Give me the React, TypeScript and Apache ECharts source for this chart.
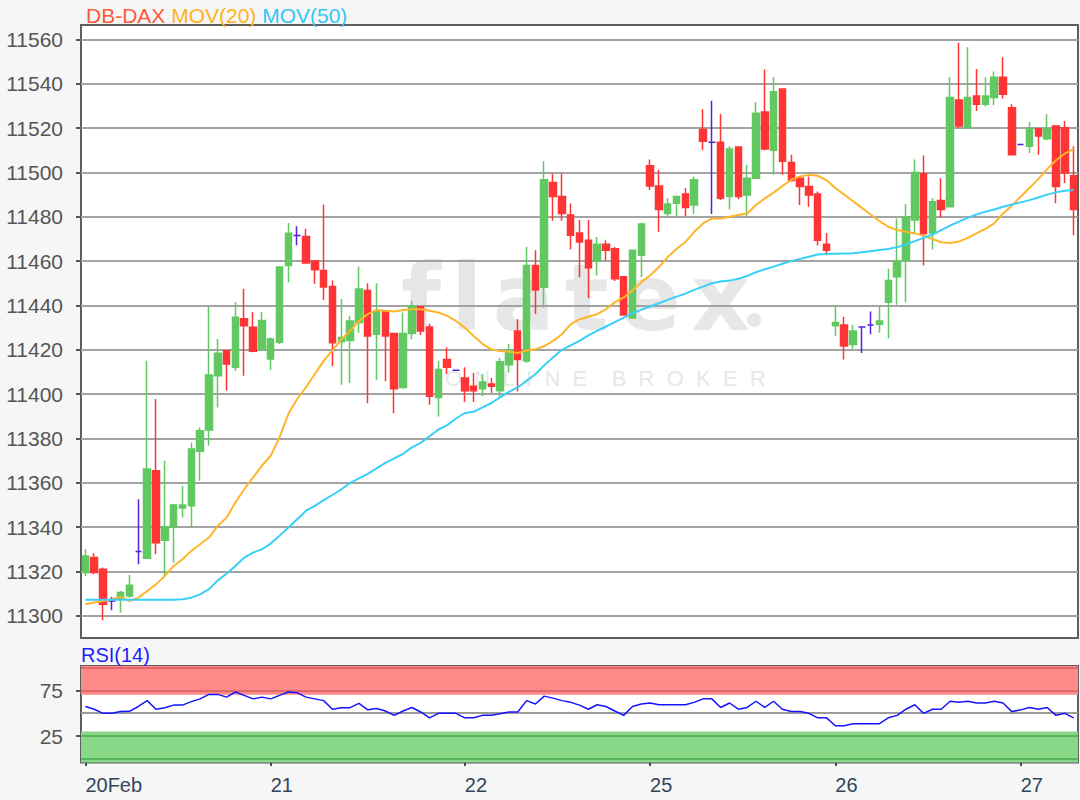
import React, { useEffect, useRef } from "react";
import * as echarts from "echarts";

const dayNames = ["20Feb", "21", "22", "25", "26", "27"];
const candlesPerDay = [21, 22, 21, 21, 21, 7];

const opens = [
  11319.5, 11326.3, 11321, 11306.7, 11307.5, 11309, 11329, 11326, 11365.4, 11334.1,
  11340.1, 11348.6, 11349.6, 11374.2, 11383.8, 11408.3, 11419.6, 11412.1, 11434, 11430.2,
  11420, 11415.9, 11423.4, 11458, 11471.6, 11471.1, 11460, 11455.8, 11448.5, 11423.6,
  11424.2, 11432.3, 11446.7, 11427, 11437.6, 11427.3, 11403, 11427.3, 11439.4, 11430.3,
  11398.5, 11415.6, 11410.8, 11407.3, 11403.5, 11402.4, 11404.6, 11401.5, 11413.3, 11428.5,
  11414.9, 11458, 11448.2, 11495.5, 11489.1, 11480.8, 11472.7, 11469.4, 11460, 11467.6,
  11465.6, 11453, 11434.3, 11462.6, 11503, 11493.9, 11481.5, 11486.1, 11490.3, 11485.3,
  11519.4, 11513.6, 11513.6, 11489.1, 11511.5, 11489.8, 11497.4, 11527.3, 11510, 11537.6,
  11504.5, 11497.4, 11493.6, 11490.3, 11467.6, 11430.8, 11431.2, 11422.4, 11430.3, 11431.2,
  11431.5, 11441.4, 11453, 11460.3, 11478.5, 11499.4, 11472.7, 11487.3, 11484.5, 11532.7,
  11520.1, 11534.5, 11530.8, 11533.8, 11542.9, 11529.2, 11512.6, 11511.8, 11519.7, 11515.2,
  11520.9, 11520.1, 11498.5,
];
const closes = [
  11327, 11319.5, 11305.2, 11306.7, 11310.5, 11313.8, 11329, 11366.2, 11333, 11340.1,
  11350, 11350, 11375.2, 11383.5, 11408.6, 11418.4, 11413.6, 11434.7, 11430.9, 11419.3,
  11433.2, 11424.9, 11457.3, 11472.6, 11471.6, 11459.1, 11456.1, 11448.3, 11423.2, 11425.5,
  11433, 11447.4, 11426.2, 11437.6, 11426.2, 11402.4, 11427.3, 11439.9, 11428.5, 11399,
  11411.1, 11412.1, 11410.8, 11401.5, 11401.5, 11405.5, 11403.5, 11414.6, 11419.7, 11415.6,
  11458, 11447, 11496.7, 11489.1, 11481.5, 11471.7, 11468.6, 11457, 11467.6, 11464.9,
  11452, 11435.7, 11464.9, 11476.7, 11493.9, 11483.3, 11485.8, 11489.1, 11484.2, 11496.7,
  11514.1, 11513.6, 11488.3, 11510.6, 11489.1, 11497.4, 11526.7, 11510.6, 11536.4, 11505,
  11496.4, 11493.6, 11489.8, 11469.4, 11464.9, 11432.3, 11421.7, 11428.5, 11430.3, 11431.2,
  11433, 11451.2, 11460, 11480, 11500, 11472.4, 11486.8, 11483.3, 11533.8, 11520.9,
  11533.8, 11530.8, 11534.5, 11542.9, 11535.3, 11508, 11512.6, 11519.7, 11516.4, 11519.7,
  11493.6, 11499.7, 11483.3,
];
const lows = [
  11318, 11318.7, 11298, 11302.5, 11301.4, 11308.2, 11323.3, 11326, 11327.8, 11318,
  11324, 11344.3, 11339.8, 11360.9, 11376.7, 11394, 11401.6, 11410.6, 11408.3, 11418.9,
  11419.6, 11410.9, 11422.6, 11450.5, 11467.1, 11458.8, 11449.8, 11442.5, 11412.6, 11404.2,
  11405, 11427.7, 11395.9, 11406.5, 11405.8, 11391.4, 11402.4, 11424.7, 11426.7, 11395.2,
  11389.9, 11409.1, 11410.8, 11396.4, 11396.4, 11399, 11400.5, 11398.2, 11409.6, 11401.2,
  11414.1, 11436.1, 11439.1, 11478.2, 11478.2, 11465.2, 11452.7, 11443.3, 11453.5, 11460.3,
  11451, 11435.3, 11434.3, 11452.7, 11492.1, 11473.2, 11479.7, 11479.7, 11480.3, 11481.2,
  11510, 11481.2, 11487.6, 11483.3, 11487.9, 11480, 11497.4, 11510, 11498.9, 11498.9,
  11495.9, 11485.3, 11484.5, 11467, 11462.6, 11426.2, 11415.6, 11420.2, 11418.6, 11427,
  11427.7, 11425.2, 11440.3, 11441.4, 11472.1, 11458, 11465.2, 11479.7, 11484.5, 11520.1,
  11520.1, 11527.7, 11529.7, 11530.3, 11533.3, 11507.6, 11512.6, 11508.8, 11508, 11514.5,
  11486.1, 11495.2, 11471.7,
];
const highs = [
  11330, 11328.2, 11321.8, 11308.5, 11311.2, 11318.4, 11352.6, 11415.1, 11397.8, 11370,
  11350.5, 11358.6, 11378.2, 11385, 11439.5, 11424.9, 11419.6, 11441.5, 11447.5, 11437,
  11437, 11425.7, 11457.6, 11477.2, 11475.7, 11474.6, 11460, 11485.5, 11451.2, 11442.9,
  11435.3, 11457.6, 11450, 11450, 11437.9, 11427.3, 11436.8, 11442.1, 11439.4, 11431.8,
  11414.9, 11421.2, 11410.8, 11412.1, 11409.6, 11409.1, 11407.3, 11416.4, 11422.7, 11433.8,
  11466.4, 11464.9, 11505, 11499.4, 11499.4, 11486, 11478.5, 11478.5, 11470.9, 11469.4,
  11466.4, 11453, 11464.9, 11477.3, 11505.8, 11501.2, 11488.3, 11489.1, 11492.9, 11498.2,
  11528.5, 11532.3, 11526.3, 11511.8, 11511.8, 11503.5, 11531.8, 11546.4, 11542.9, 11537.9,
  11508, 11498.2, 11498.2, 11491.4, 11472.7, 11439.4, 11434.9, 11431.2, 11430.3, 11437.3,
  11439.4, 11456.5, 11479.2, 11485.8, 11505.8, 11507.6, 11488.3, 11497.4, 11542.9, 11558.5,
  11556.5, 11546.7, 11542.9, 11545.5, 11552, 11530.8, 11512.6, 11522.7, 11519.7, 11526.2,
  11521.2, 11523.2, 11511.8,
];
const mov20 = [
  11305.2, 11306, 11306.7, 11307.5, 11308.5, 11306.7, 11308.2, 11311.2, 11314.2, 11318,
  11322.5, 11325.5, 11329.3, 11332.3, 11335.3, 11340.6, 11344.3, 11351.1, 11357.1, 11362.4,
  11367.7, 11372.2, 11380.5, 11391, 11397.8, 11403.1, 11409.1, 11415, 11419.7, 11424.7,
  11428.5, 11433, 11436.1, 11437.9, 11437.6, 11437.3, 11437.9, 11438.3, 11438.3, 11437.6,
  11436.8, 11435.3, 11433, 11430, 11426.2, 11422.7, 11420.2, 11419.4, 11419.1, 11418.6,
  11419.7, 11420.2, 11421.7, 11424, 11427, 11431.5, 11433.8, 11434.9, 11436.1, 11438.3,
  11441.4, 11443.6, 11446.7, 11450.5, 11453.5, 11457.3, 11461.8, 11465.6, 11468.6, 11473.2,
  11477, 11479.2, 11479.2, 11480, 11480.8, 11481.5, 11485.3, 11488.3, 11490.9, 11493.9,
  11496.7, 11498.2, 11498.9, 11498.5, 11496.5, 11493, 11490, 11487, 11484, 11481,
  11478, 11475.5, 11474, 11473.2, 11472.5, 11471.5, 11470, 11468.5, 11468.2, 11468.8,
  11470.5, 11472.5, 11474.5, 11477, 11481.5, 11485, 11489, 11493, 11497, 11501.5,
  11505.5, 11508.5, 11510.5,
];
const mov50 = [
  11307.2, 11307.2, 11307.2, 11307.2, 11307.2, 11307.2, 11307.2, 11307.2, 11307.2, 11307.2,
  11307.2, 11307.5, 11308.2, 11309.7, 11312, 11316, 11319, 11322.5, 11326.3, 11328.5,
  11330, 11332.6, 11336.1, 11339.8, 11343.6, 11347.4, 11349.6, 11352.2, 11354.5, 11357,
  11360, 11362, 11364, 11366.5, 11369, 11371, 11373, 11376, 11378, 11381,
  11384, 11386, 11389, 11391.5, 11392, 11394, 11396, 11398.5, 11401, 11403,
  11406, 11409, 11413, 11416.5, 11420, 11422, 11424, 11426.5, 11428.5, 11430.5,
  11432.5, 11434.5, 11436.5, 11438, 11439.5, 11441, 11442.5, 11444, 11445.3, 11447,
  11448.5, 11450, 11450.8, 11451.2, 11452, 11453.3, 11455, 11456.3, 11457.5, 11458.8,
  11460, 11461, 11462, 11463, 11463.2, 11463.3, 11463.4, 11463.5, 11464, 11464.5,
  11465, 11465.5, 11466.3, 11467.5, 11469, 11470.5, 11472, 11474, 11476, 11477.8,
  11479.5, 11481, 11482.3, 11483.3, 11484.5, 11485.5, 11486.5, 11487.5, 11488.7, 11490,
  11491, 11491.7, 11492.1,
];
const rsi = [
  57.3, 54.3, 49.8, 49.8, 51.7, 52, 57.3, 63.7, 54.3, 56,
  58.8, 58.8, 62.6, 65.6, 70.5, 70.5, 67.5, 73.1, 69.4, 65.6,
  67.5, 65.6, 69.4, 73.1, 72.4, 67.5, 65.6, 63.7, 54.3, 56,
  56, 60.7, 53.6, 55, 52.4, 47.6, 52.4, 56.2, 51.3, 44.9,
  49.8, 49.8, 49.8, 44.9, 44.9, 47.6, 47.6, 49.4, 51.3, 51.3,
  63.7, 60, 68.6, 66.4, 63.7, 61.8, 58.8, 54.3, 59.2, 57.3,
  52.4, 47.6, 57.3, 60, 61.1, 59.2, 59.2, 59.2, 59.2, 61.8,
  65.6, 65.6, 56.2, 61.1, 54.3, 56.2, 63, 56.2, 63, 54.3,
  51.7, 51.7, 49.8, 44.9, 44.9, 36.3, 36.3, 38.5, 38.5, 38.5,
  38.5, 44.9, 47.6, 54.3, 59.2, 49.8, 54.3, 54.3, 63, 61.8,
  63, 61.1, 61.1, 63, 61.1, 51.7, 53.6, 56.2, 54.3, 56.2,
  47.6, 49.8, 44.9,
];
const priceTicks = [11300, 11320, 11340, 11360, 11380, 11400, 11420, 11440, 11460, 11480, 11500, 11520, 11540, 11560];
const rsiTicks = [25, 75];
const rsiOverbought = [70, 101.5];
const rsiOversold = [-4, 30];
const rsiGuides = [100, 75, 50, 25, 0];

const FONT = "'Liberation Sans', Arial, sans-serif";

export default function App() {
  const ref = useRef<HTMLDivElement>(null);
  useEffect(() => {
    document.body.style.margin = "0";
    document.body.style.background = "#f6f6f6";
    const chart = echarts.init(ref.current!, undefined, { renderer: "svg" });

    const categories: string[] = [];
    const dayStart = new Set<number>();
    dayNames.forEach((d, i) => {
      dayStart.add(categories.length);
      for (let j = 0; j < candlesPerDay[i]; j++) categories.push(j === 0 ? d : `${d} ${j}`);
    });
    const candles = opens.map((o, i) => [o, closes[i], lows[i], highs[i]]);
    const showDay = (i: number) => dayStart.has(i);

    const guideColor = (v: number) => (v >= 70 ? "#e06868" : v <= 30 ? "#58b458" : "#9a9a9a");

    chart.setOption({
      animation: false,
      backgroundColor: "#f6f6f6",
      title: {
        text: "{a|DB-DAX} {b|MOV(20)} {c|MOV(50)}",
        left: 81,
        top: 0,
        textStyle: {
          fontSize: 21,
          fontFamily: FONT,
          fontWeight: "normal",
          rich: {
            a: { color: "#ff5a3a", fontSize: 21, fontFamily: FONT },
            b: { color: "#ffb21e", fontSize: 21, fontFamily: FONT },
            c: { color: "#32c8f5", fontSize: 21, fontFamily: FONT },
          },
        },
      },
      graphic: [
        { type: "rect", z: -10, shape: { x: 81, y: 25, width: 997, height: 613 }, style: { fill: "#ffffff" } },
        {
          type: "text", z: -9, x: 396, y: 344,
          style: {
            text: "{s|f}{s|l}{s|a}{s|t}{s|e}{s|x}",
            fill: "#e7e7e7", fontSize: 92, fontWeight: "bold", fontFamily: "'DejaVu Sans', sans-serif",
            verticalAlign: "bottom", align: "left",
            rich: { s: { fill: "#e7e7e7", fontSize: 92, fontWeight: "bold", fontFamily: "'DejaVu Sans', sans-serif", padding: [0, 5, 0, 5] } },
          },
        },
        { type: "circle", z: -9, shape: { cx: 754, cy: 320, r: 7 }, style: { fill: "#e7e7e7" } },
        {
          type: "text", z: -9, x: 445, y: 378,
          style: { text: "O  N  L  I  N  E    B  R  O  K  E  R", fill: "#e7e7e7", fontSize: 22, fontFamily: FONT, verticalAlign: "middle", align: "left" },
        },
        {
          type: "text", x: 81, y: 655,
          style: { text: "RSI(14)", fill: "#1e1eff", fontSize: 20, fontFamily: FONT, verticalAlign: "middle", align: "left" },
        },
      ],
      grid: [
        { left: 81, top: 25, width: 997, height: 613, show: true, backgroundColor: "transparent", borderColor: "#5e5e5e", borderWidth: 2 },
        { left: 81, top: 666, width: 997, height: 96.6, show: true, backgroundColor: "#ffffff", borderColor: "#5e5e5e", borderWidth: 2 },
      ],
      xAxis: [
        {
          type: "category", gridIndex: 0, data: categories, boundaryGap: true,
          axisLine: { show: false }, axisTick: { show: false }, axisLabel: { show: false }, splitLine: { show: false },
        },
        {
          type: "category", gridIndex: 1, data: categories, boundaryGap: true,
          axisLine: { show: false },
          axisTick: { show: true, alignWithLabel: true, interval: showDay, length: 7, lineStyle: { color: "#3d4c60", width: 2 } },
          axisLabel: { interval: showDay, align: "left", margin: 12, color: "#33455b", fontSize: 20, fontFamily: FONT },
          splitLine: { show: false },
        },
      ],
      yAxis: [
        {
          type: "value", gridIndex: 0, min: 11290, max: 11566.5, scale: true,
          axisLine: { show: false },
          axisTick: { show: true, customValues: priceTicks, length: 5, lineStyle: { color: "#555555", width: 2 } },
          axisLabel: { customValues: priceTicks, formatter: (v: number) => String(v), color: "#555555", fontSize: 21, fontFamily: FONT, margin: 18 },
          splitLine: { show: true, lineStyle: { color: "#a3a3a3", width: 2 } },
        },
        {
          type: "value", gridIndex: 1, min: -4, max: 101.5,
          axisLine: { show: false },
          axisTick: { show: true, customValues: rsiTicks, length: 5, lineStyle: { color: "#555555", width: 2 } },
          axisLabel: { customValues: rsiTicks, formatter: (v: number) => String(v), color: "#555555", fontSize: 21, fontFamily: FONT, margin: 18 },
          splitLine: { show: false },
        },
      ],
      series: [
        {
          name: "DB-DAX", type: "candlestick", xAxisIndex: 0, yAxisIndex: 0, data: candles, barWidth: 7, z: 3,
          itemStyle: {
            color: "#62c862", color0: "#ff3434", borderColor: "#62c862", borderColor0: "#ff3434",
            borderColorDoji: "#5522dd", borderWidth: 1.5,
          },
        },
        {
          name: "MOV(20)", type: "line", xAxisIndex: 0, yAxisIndex: 0, data: mov20, symbol: "none", z: 4,
          lineStyle: { color: "#ffb52a", width: 2 },
        },
        {
          name: "MOV(50)", type: "line", xAxisIndex: 0, yAxisIndex: 0, data: mov50, symbol: "none", z: 4,
          lineStyle: { color: "#38d0f8", width: 2 },
        },
        {
          name: "RSI(14)", type: "line", xAxisIndex: 1, yAxisIndex: 1, data: rsi, symbol: "none", z: 4,
          lineStyle: { color: "#1414ff", width: 1.5 },
          markArea: {
            silent: true, z: 1,
            data: [
              [{ yAxis: rsiOverbought[0], itemStyle: { color: "#ff8a8a" } }, { yAxis: rsiOverbought[1] }],
              [{ yAxis: rsiOversold[0], itemStyle: { color: "#88d888" } }, { yAxis: rsiOversold[1] }],
            ],
          },
          markLine: {
            silent: true, z: 3, symbol: ["none", "none"], label: { show: false },
            data: rsiGuides.map((v) => ({ yAxis: v, lineStyle: { color: guideColor(v), width: 2, type: "solid" } })),
          },
        },
      ],
    });
    return () => chart.dispose();
  }, []);
  return <div ref={ref} style={{ width: 1080, height: 800 }} />;
}
